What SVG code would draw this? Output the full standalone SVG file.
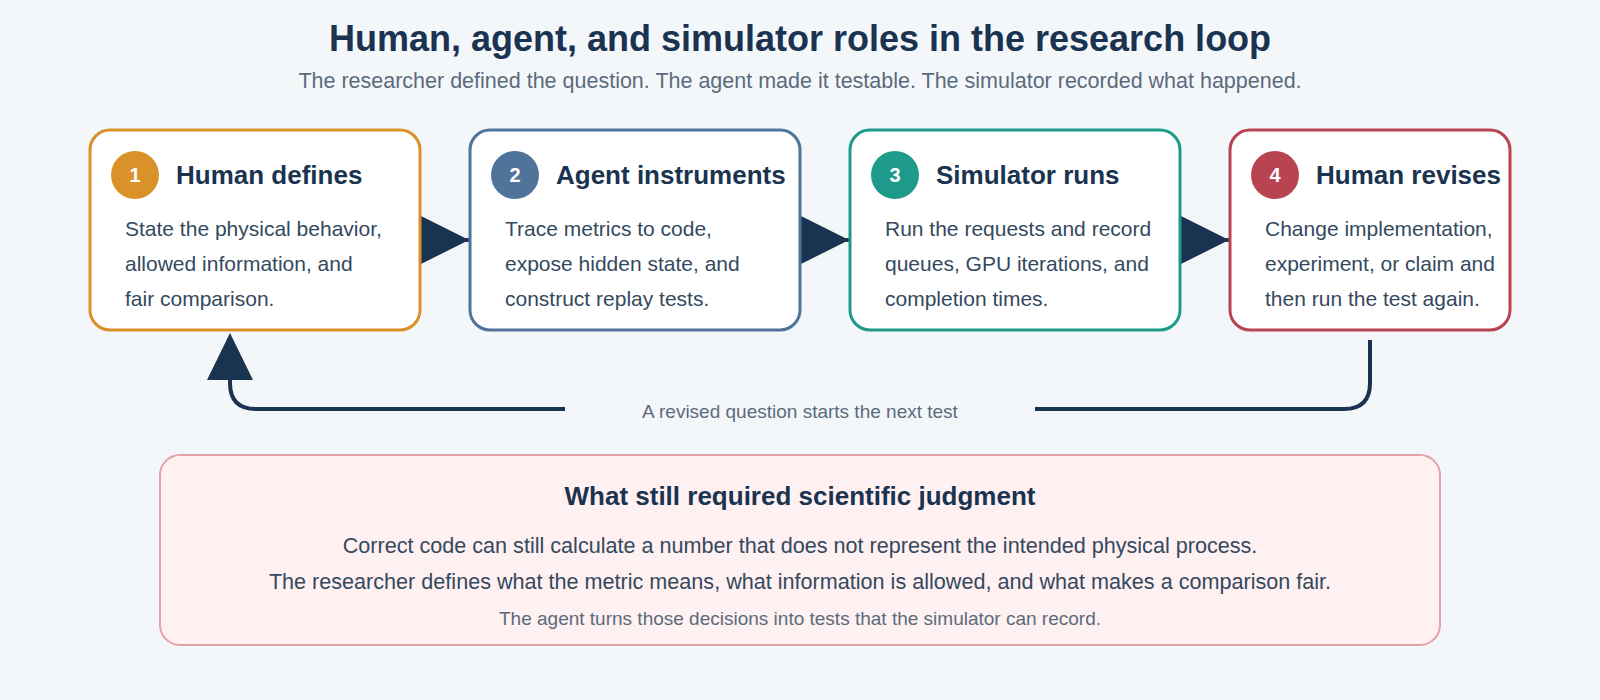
<svg xmlns="http://www.w3.org/2000/svg" width="1600" height="700" viewBox="0 0 1600 700">
<style>
text{font-family:"Liberation Sans",Arial,sans-serif}
.t{font-size:36px;font-weight:bold;fill:#1a3350;text-anchor:middle}
.s{font-size:21.5px;fill:#5b6b7c;text-anchor:middle}
.box{fill:#fff;stroke-width:3}
.h{font-size:26px;font-weight:bold;fill:#1a3350}
.n{font-size:20px;font-weight:bold;fill:#fff;text-anchor:middle}
.b{font-size:21px;fill:#34495e}
.c{stroke:#1a3350;stroke-width:4;fill:none}
.l{font-size:19px;fill:#5b6b7c;text-anchor:middle}
.m{font-size:21.6px;fill:#34495e;text-anchor:middle}
</style>
<defs>
<marker id="big" viewBox="0 0 48 48" refX="48" refY="24" markerWidth="48" markerHeight="48" markerUnits="userSpaceOnUse" orient="auto"><path d="M0,0 L48,24 L0,48 Z" fill="#1a3350"/></marker>
</defs>
<rect width="1600" height="700" fill="#f4f7fa"/>
<text class="t" x="800" y="51">Human, agent, and simulator roles in the research loop</text>
<text class="s" x="800" y="88">The researcher defined the question. The agent made it testable. The simulator recorded what happened.</text>
<g id="connectors">
<line class="c" x1="421" y1="240" x2="469" y2="240" marker-end="url(#big)" stroke-width="0"/>
<line class="c" x1="801" y1="240" x2="849" y2="240" marker-end="url(#big)" stroke-width="0"/>
<line class="c" x1="1181" y1="240" x2="1229" y2="240" marker-end="url(#big)" stroke-width="0"/>
<path class="c" d="M1370,340 V383 Q1370,409 1344,409 H1035"/>
<path class="c" d="M565,409 H256 Q230,409 230,383 V380"/>
<path d="M207,380 L230,333 L253,380 Z" fill="#1a3350"/>
<text class="l" x="800" y="418">A revised question starts the next test</text>
</g>
<g id="node1">
<rect class="box" x="90" y="130" width="330" height="200" rx="20" stroke="#d9912a"/>
<circle cx="135" cy="175" r="24" fill="#d9912a"/><text class="n" x="135" y="182">1</text>
<text class="h" x="176" y="184">Human defines</text>
<text class="b" x="125" y="236">State the physical behavior,</text>
<text class="b" x="125" y="271">allowed information, and</text>
<text class="b" x="125" y="306">fair comparison.</text>
</g>
<g id="node2">
<rect class="box" x="470" y="130" width="330" height="200" rx="20" stroke="#4f7399"/>
<circle cx="515" cy="175" r="24" fill="#4f7399"/><text class="n" x="515" y="182">2</text>
<text class="h" x="556" y="184">Agent instruments</text>
<text class="b" x="505" y="236">Trace metrics to code,</text>
<text class="b" x="505" y="271">expose hidden state, and</text>
<text class="b" x="505" y="306">construct replay tests.</text>
</g>
<g id="node3">
<rect class="box" x="850" y="130" width="330" height="200" rx="20" stroke="#1e9a8a"/>
<circle cx="895" cy="175" r="24" fill="#1e9a8a"/><text class="n" x="895" y="182">3</text>
<text class="h" x="936" y="184">Simulator runs</text>
<text class="b" x="885" y="236">Run the requests and record</text>
<text class="b" x="885" y="271">queues, GPU iterations, and</text>
<text class="b" x="885" y="306">completion times.</text>
</g>
<g id="node4">
<rect class="box" x="1230" y="130" width="280" height="200" rx="20" stroke="#b84452"/>
<circle cx="1275" cy="175" r="24" fill="#b84452"/><text class="n" x="1275" y="182">4</text>
<text class="h" x="1316" y="184">Human revises</text>
<text class="b" x="1265" y="236">Change implementation,</text>
<text class="b" x="1265" y="271">experiment, or claim and</text>
<text class="b" x="1265" y="306">then run the test again.</text>
</g>
<g id="judgment">
<rect x="160" y="455" width="1280" height="190" rx="20" fill="#fff0f1" stroke="#e3a2aa" stroke-width="2"/>
<text x="800" y="505" font-size="26" font-weight="bold" fill="#1a3350" text-anchor="middle">What still required scientific judgment</text>
<text class="m" x="800" y="553">Correct code can still calculate a number that does not represent the intended physical process.</text>
<text class="m" x="800" y="589">The researcher defines what the metric means, what information is allowed, and what makes a comparison fair.</text>
<text class="l" x="800" y="625">The agent turns those decisions into tests that the simulator can record.</text>
</g>
</svg>
